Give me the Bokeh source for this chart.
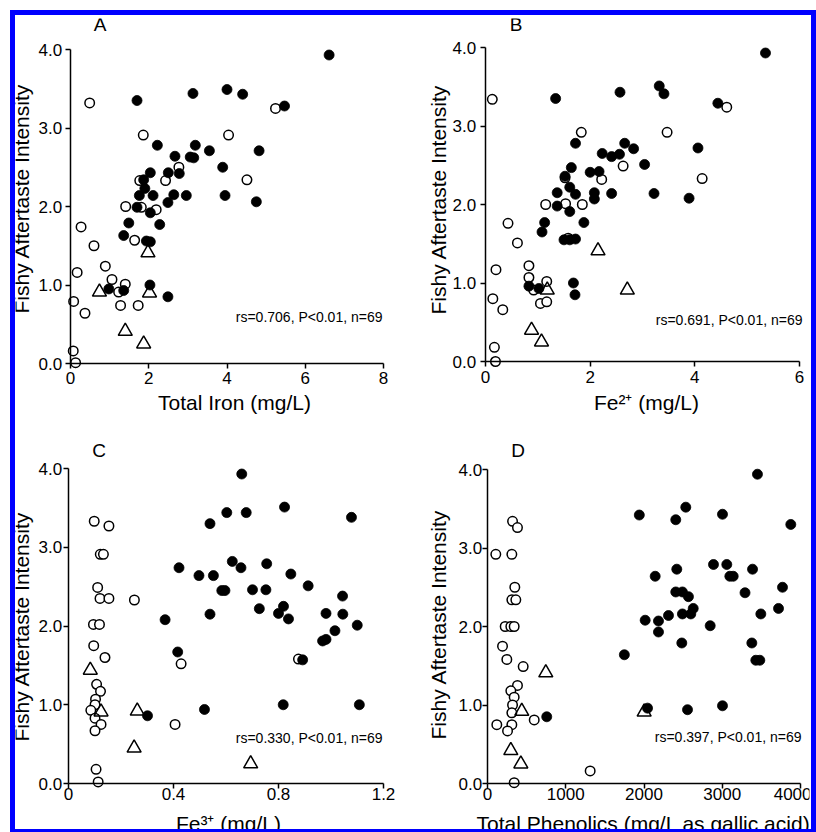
from math import pi
from bokeh.plotting import figure
from bokeh.models import (Range1d, LinearAxis, FixedTicker, PrintfTickFormatter,
                          NumeralTickFormatter, Label, Spacer)
from bokeh.layouts import column, row
from bokeh.embed import file_html
from bokeh.resources import INLINE

FONT = "Liberation Sans"
BLUE = "#0000ff"

# ---------------- data ----------------
y_label = "Fishy Aftertaste Intensity"
y_ticks = [0, 1, 2, 3, 4]

# Panel A: Total iron
A_ticks = [0, 2, 4, 6, 8]
A_fill_x = [6.61, 4.0, 4.4, 3.13, 1.70, 5.47, 2.22, 3.19, 3.55, 4.82, 2.67, 3.06, 3.15, 3.89, 2.50, 2.78,
            2.04, 1.87, 1.90, 1.76, 2.11, 2.64, 2.49, 2.96, 3.95, 4.75, 1.70, 2.04, 1.49, 2.28, 1.36,
            1.94, 2.04, 0.98, 1.36, 2.03, 2.49]
A_fill_y = [3.93, 3.49, 3.43, 3.44, 3.35, 3.28, 2.78, 2.78, 2.71, 2.71, 2.64, 2.63, 2.62, 2.50, 2.43, 2.42,
            2.43, 2.34, 2.23, 2.14, 2.14, 2.15, 2.05, 2.14, 2.14, 2.06, 1.99, 1.92, 1.79, 1.77, 1.63,
            1.56, 1.55, 0.95, 0.93, 1.00, 0.85]
A_open_x = [0.49, 1.86, 4.04, 5.24, 2.77, 1.77, 2.43, 4.51, 1.41, 1.81, 2.19, 0.27, 0.60, 1.64, 0.89,
            0.17, 1.06, 1.40, 1.23, 1.28, 1.73, 0.08, 0.37, 0.07, 0.13]
A_open_y = [3.32, 2.91, 2.91, 3.25, 2.50, 2.33, 2.33, 2.34, 2.00, 1.99, 1.96, 1.74, 1.50, 1.57, 1.24,
            1.16, 1.07, 1.01, 0.91, 0.74, 0.74, 0.79, 0.64, 0.16, 0.01]
A_tri_x = [0.74, 1.98, 2.02, 1.40, 1.87]
A_tri_y = [0.91, 1.41, 0.90, 0.41, 0.25]

# Panel B: Fe2+
B_ticks = [0, 2, 4, 6]
B_fill_x = [5.35, 3.32, 3.41, 2.57, 1.34, 4.44, 1.72, 2.66, 2.83, 4.06, 2.23, 2.41, 2.56, 3.04, 2.0, 2.17,
            1.64, 1.52, 1.61, 1.72, 1.37, 2.08, 2.08, 2.41, 3.22, 3.89, 1.37, 1.61, 1.13, 1.08, 1.88,
            1.50, 1.61, 1.72, 0.83, 1.02, 1.68, 1.71]
B_fill_y = [3.93, 3.51, 3.41, 3.43, 3.35, 3.29, 2.78, 2.78, 2.71, 2.72, 2.65, 2.61, 2.64, 2.51, 2.41, 2.42,
            2.47, 2.36, 2.22, 2.13, 2.15, 2.15, 2.07, 2.14, 2.14, 2.08, 1.98, 1.91, 1.77, 1.65, 1.77,
            1.55, 1.55, 1.56, 0.96, 0.93, 1.00, 0.85]
B_open_x = [0.13, 1.83, 3.47, 4.61, 2.63, 2.22, 4.14, 1.52, 1.15, 1.53, 1.85, 0.43, 0.61, 0.20, 0.83,
            0.83, 1.17, 0.92, 1.05, 1.17, 0.14, 0.33, 0.17, 0.19, 1.58]
B_open_y = [3.34, 2.92, 2.92, 3.24, 2.49, 2.32, 2.33, 2.34, 2.00, 2.01, 2.00, 1.76, 1.51, 1.17, 1.22,
            1.07, 1.02, 0.91, 0.74, 0.76, 0.80, 0.66, 0.18, 0.00, 1.57]
B_tri_x = [0.88, 1.07, 2.15, 2.71, 1.18]
B_tri_y = [0.40, 0.25, 1.41, 0.91, 0.91]

# Panel C: Fe3+
C_ticks = [0, 0.4, 0.8, 1.2]
C_fill_x = [0.660, 0.823, 0.603, 0.677, 0.539, 1.078, 0.624, 0.755, 0.657, 0.421, 0.497, 0.552, 0.847,
            0.913, 0.584, 0.596, 0.701, 0.752, 1.044, 0.727, 0.819, 0.800, 0.838, 0.539, 0.981, 1.045,
            0.368, 1.100, 1.015, 0.968, 0.981, 0.416, 0.892, 0.518, 0.818, 1.108, 0.301]
C_fill_y = [3.93, 3.51, 3.44, 3.44, 3.30, 3.38, 2.82, 2.79, 2.74, 2.74, 2.64, 2.64, 2.66,
            2.51, 2.45, 2.45, 2.46, 2.46, 2.38, 2.22, 2.25, 2.16, 2.09, 2.15, 2.16, 2.15,
            2.08, 2.01, 1.94, 1.81, 1.83, 1.67, 1.57, 0.94, 1.00, 1.00, 0.86]
C_open_x = [0.098, 0.154, 0.121, 0.133, 0.111, 0.120, 0.154, 0.251, 0.095, 0.118, 0.096, 0.139, 0.429,
            0.107, 0.122, 0.103, 0.101, 0.085, 0.101, 0.124, 0.101, 0.406, 0.105, 0.113, 0.876]
C_open_y = [3.33, 3.27, 2.91, 2.91, 2.49, 2.35, 2.35, 2.33, 2.02, 2.02, 1.75, 1.60, 1.52,
            1.26, 1.17, 1.07, 1.00, 0.93, 0.83, 0.75, 0.67, 0.75, 0.18, 0.02, 1.58]
C_tri_x = [0.083, 0.124, 0.262, 0.250, 0.694]
C_tri_y = [1.44, 0.91, 0.92, 0.45, 0.25]

# Panel D: Total phenolics
D_ticks = [0, 1000, 2000, 3000, 4000]
D_fill_x = [3450, 2534, 1940, 3003, 2406, 3876, 2888, 3058, 3387, 2419, 2143, 3097, 3140, 3291, 3770,
            2406, 2491, 2568, 3719, 2629, 2598, 2491, 2313, 3493, 2015, 2185, 2846, 2185, 2483, 3378,
            3429, 3480, 1749, 2045, 2556, 3003, 757]
D_fill_y = [3.94, 3.52, 3.42, 3.43, 3.36, 3.30, 2.79, 2.79, 2.73, 2.73, 2.64, 2.64, 2.64, 2.43, 2.50,
            2.44, 2.44, 2.38, 2.23, 2.23, 2.16, 2.16, 2.14, 2.16, 2.08, 2.07, 2.01, 1.93, 1.79, 1.79,
            1.57, 1.57, 1.64, 0.96, 0.94, 0.99, 0.85]
D_open_x = [320, 383, 106, 311, 349, 311, 362, 226, 298, 341, 192, 247, 456, 383, 298, 341, 320, 311,
            119, 311, 256, 597, 1312, 341]
D_open_y = [3.34, 3.26, 2.92, 2.92, 2.50, 2.34, 2.34, 2.00, 2.00, 2.00, 1.75, 1.58, 1.49, 1.25, 1.18,
            1.10, 1.00, 0.90, 0.75, 0.75, 0.67, 0.81, 0.16, 0.01]
D_tri_x = [745, 438, 298, 426, 2002]
D_tri_y = [1.41, 0.92, 0.42, 0.25, 0.91]

# ---------------- panel geometry (page pixels) ----------------
PANELS = [
    dict(ox=15, oy=15, px0=70, kx=(383 - 70) / 8, py0=363, ky=(363 - 49) / 4,
         xmax=8, ticks=A_ticks, ylab_gap=8, xlab_base=20,
         fx=A_fill_x, fy=A_fill_y, opx=A_open_x, opy=A_open_y, tx=A_tri_x, ty=A_tri_y,
         letter="A", letter_pos=(99.5, 23.5),
         xlabel="Total Iron (mg/L)", xlabel_pos=(234, 401.5), ylabel_pos=(21, 198),
         stat="rs=0.706, P<0.01, n=69", stat_pos=(382, 316)),
    dict(ox=413, oy=15, px0=485, kx=(799 - 485) / 6, py0=361, ky=(361 - 47) / 4,
         xmax=6, ticks=B_ticks, ylab_gap=9, xlab_base=21,
         fx=B_fill_x, fy=B_fill_y, opx=B_open_x, opy=B_open_y, tx=B_tri_x, ty=B_tri_y,
         letter="B", letter_pos=(515.5, 23.5),
         xlabel="Fe\u00b2\u207a (mg/L)", xlabel_pos=(646, 401.5), ylabel_pos=(438, 199),
         stat="rs=0.691, P<0.01, n=69", stat_pos=(802, 319)),
    dict(ox=15, oy=422, px0=68, kx=(383 - 68) / 1.2, py0=783, ky=(783 - 468) / 4,
         xmax=1.2, ticks=C_ticks, ylab_gap=6, xlab_base=16,
         fx=C_fill_x, fy=C_fill_y, opx=C_open_x, opy=C_open_y, tx=C_tri_x, ty=C_tri_y,
         letter="C", letter_pos=(98.5, 449.5),
         xlabel="Fe\u00b3\u207a (mg/L)", xlabel_pos=(228, 822.5), ylabel_pos=(21, 626),
         stat="rs=0.330, P<0.01, n=69", stat_pos=(382, 737)),
    dict(ox=413, oy=422, px0=487, kx=(800 - 487) / 4000, py0=783, ky=(783 - 469) / 4,
         xmax=4000, ticks=D_ticks, ylab_gap=5, xlab_base=16,
         fx=D_fill_x, fy=D_fill_y, opx=D_open_x, opy=D_open_y, tx=D_tri_x, ty=D_tri_y,
         letter="D", letter_pos=(517.5, 449.5),
         xlabel="Total Phenolics (mg/L as gallic acid)", xlabel_pos=(643, 822.5), ylabel_pos=(438, 624),
         stat="rs=0.397, P<0.01, n=69", stat_pos=(801, 736)),
]
W, H = 398, 407
TICK_FS = 17
YLAB_W = 1.39 * TICK_FS  # width of "4.0"
TOP_B, RIGHT_B = 3, 2


def style_axis(ax, standoff):
    ax.axis_line_width = 1.5
    ax.axis_line_color = "black"
    ax.major_tick_line_width = 1.5
    ax.major_tick_line_color = "black"
    ax.major_tick_in = 5
    ax.major_tick_out = 0
    ax.minor_tick_line_color = None
    ax.major_label_text_font = FONT
    ax.major_label_text_font_size = f"{TICK_FS}px"
    ax.major_label_text_color = "black"
    ax.major_label_standoff = standoff


def make_panel(g):
    dx = lambda px: (px - g["px0"]) / g["kx"]
    dy = lambda py: (g["py0"] - py) / g["ky"]
    fl, fr = g["ox"], g["ox"] + W - RIGHT_B
    ft, fb = g["oy"] + TOP_B, g["oy"] + H
    p = figure(width=W, height=H, title=None,
               x_range=Range1d(dx(fl), dx(fr)), y_range=Range1d(dy(fb), dy(ft)),
               x_axis_type=None, y_axis_type=None,
               min_border_left=0, min_border_right=RIGHT_B,
               min_border_top=TOP_B, min_border_bottom=0,
               toolbar_location=None, output_backend="svg")
    p.outline_line_color = None
    p.background_fill_color = "white"
    p.border_fill_color = "white"
    p.grid.visible = False

    # axes drawn at the zero lines; ticks point out of the data area
    xaxis = LinearAxis(fixed_location=0, bounds=(0, g["xmax"]), ticker=FixedTicker(ticks=g["ticks"]),
                       formatter=NumeralTickFormatter(format="0.[0]"))
    style_axis(xaxis, -g["xlab_base"])
    yaxis = LinearAxis(fixed_location=0, bounds=(0, 4), ticker=FixedTicker(ticks=y_ticks),
                       formatter=PrintfTickFormatter(format="%.1f"))
    style_axis(yaxis, -round(g["ylab_gap"] + YLAB_W))
    p.add_layout(xaxis, "above")
    p.add_layout(yaxis, "right")

    p.scatter(g["opx"], g["opy"], marker="circle", size=9.5, fill_color="white",
              line_color="black", line_width=1.5)
    p.scatter(g["tx"], g["ty"], marker="triangle", size=14, fill_color=None,
              line_color="black", line_width=1.5)
    p.scatter(g["fx"], g["fy"], marker="circle", size=10, fill_color="black",
              line_color="black", line_width=0.8)

    def label(pos, text, size, **kw):
        p.add_layout(Label(x=dx(pos[0]), y=dy(pos[1]), text=text, text_font=FONT,
                           text_font_size=size, text_color="black", **kw))

    label(g["letter_pos"], g["letter"], "19px", text_align="center", text_baseline="alphabetic")
    label(g["xlabel_pos"], g["xlabel"], "21px", text_align="center", text_baseline="alphabetic")
    label(g["ylabel_pos"], y_label, "21px", text_align="center", text_baseline="alphabetic",
          angle=pi / 2)
    label(g["stat_pos"], g["stat"], "14px", text_align="right", text_baseline="middle")
    return p


figs = [make_panel(g) for g in PANELS]


def blue(w, h):
    return Spacer(width=w, height=h, styles={"background-color": BLUE})


grid = column(row(figs[0], figs[1]), row(figs[2], figs[3]))
inner = column(blue(806, 5), row(blue(5, 814), grid, blue(5, 814)), blue(806, 3))
layout = column(Spacer(width=816, height=10), row(Spacer(width=10, height=822), inner))

open("out.html", "w").write(file_html(layout, INLINE))
